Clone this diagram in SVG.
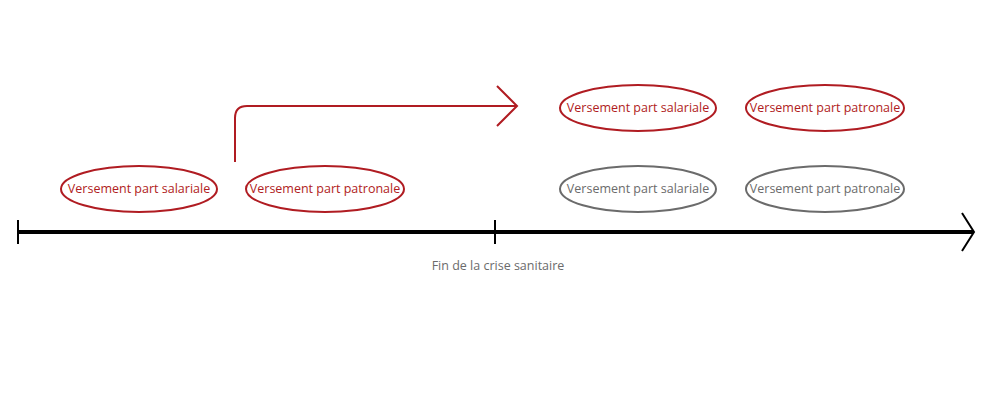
<svg xmlns="http://www.w3.org/2000/svg" width="1005" height="400" viewBox="0 0 1005 400">
<style>
.r{fill:none;stroke:#b01c22;stroke-width:2}
.g{fill:none;stroke:#6b6b6b;stroke-width:2}
.tr{fill:#b01c22;font-family:"Open Sans",sans-serif;font-size:12.5px;text-anchor:middle}
.tg{fill:#6b6b6b;font-family:"Open Sans",sans-serif;font-size:12.5px;text-anchor:middle}
</style>
<rect width="1005" height="400" fill="#fff"/>
<g id="connectors">
<line x1="18" y1="232" x2="973" y2="232" stroke="#000" stroke-width="4"/>
<line x1="18" y1="220" x2="18" y2="244" stroke="#000" stroke-width="2"/>
<line x1="495" y1="220" x2="495" y2="244" stroke="#000" stroke-width="2"/>
<polyline points="962,213 974,232 962,251" fill="none" stroke="#000" stroke-width="2"/>
<path d="M235 162 V118 Q235 106 247 106 H517" class="r" stroke-width="3"/>
<polyline points="497,86 517,106 497,126" class="r" stroke-width="3"/>
</g>
<text x="498" y="270" class="tg" font-size="13.5">Fin de la crise sanitaire</text>
<g id="n1"><ellipse cx="139" cy="189" rx="78" ry="23" class="r"/><text x="139" y="193" class="tr">Versement part salariale</text></g>
<g id="n2"><ellipse cx="325" cy="189" rx="79" ry="23" class="r"/><text x="325" y="193" class="tr">Versement part patronale</text></g>
<g id="n3"><ellipse cx="638" cy="108" rx="78" ry="23" class="r"/><text x="638" y="112" class="tr">Versement part salariale</text></g>
<g id="n4"><ellipse cx="825" cy="108" rx="79" ry="23" class="r"/><text x="825" y="112" class="tr">Versement part patronale</text></g>
<g id="n5"><ellipse cx="638" cy="189" rx="78" ry="23" class="g"/><text x="638" y="193" class="tg">Versement part salariale</text></g>
<g id="n6"><ellipse cx="825" cy="189" rx="79" ry="23" class="g"/><text x="825" y="193" class="tg">Versement part patronale</text></g>
</svg>
